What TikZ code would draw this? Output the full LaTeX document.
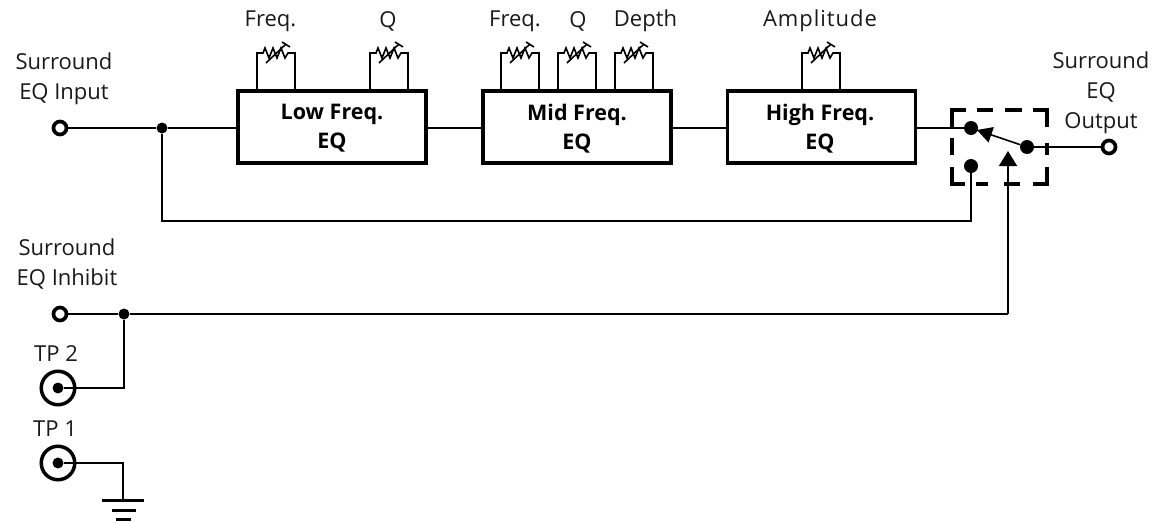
\documentclass[tikz,border=0pt]{standalone}
\usepackage{fontspec}
\setmainfont{Open Sans}
\usetikzlibrary{arrows.meta}
\tikzset{
  x=1pt,y=-1pt,
  wire/.style={line width=1.6pt,line join=miter},
  lbl/.style={font=\fontsize{22}{30}\selectfont,align=center,inner sep=0pt,text=black!90},
  eqbox/.style={draw,line width=3.2pt,minimum width=188pt,minimum height=72pt,inner sep=0pt},
  boxtext/.style={inner sep=0pt,align=center,font=\fontsize{21.5}{29}\selectfont\bfseries},
  term/.style={circle,draw,line width=3.7pt,fill=white,minimum size=13pt,inner sep=0pt},
  jdot/.style={circle,fill=black,minimum size=11pt,inner sep=0pt},
  sdot/.style={circle,fill=black,minimum size=14pt,inner sep=0pt},
  tp/.style={circle,draw,line width=3.5pt,minimum size=33.5pt,inner sep=0pt},
  tpdot/.style={circle,fill=black,minimum size=11pt,inner sep=0pt},
  pot/.pic={
    \draw[line width=1.6pt,line join=miter] (0,37) -- (0,0) -- (6,0) -- (8,-5) -- (12,5) -- (16,-5) -- (20,5) -- (24,-5) -- (28,5) -- (31,0) -- (38,0) -- (38,37);
    \draw[line width=1.6pt] (9,10) -- (29,-9);
    \draw[line width=1.6pt] (25,-11) -- (33,-6);
  }
}
\begin{document}
\begin{tikzpicture}
\useasboundingbox (0,0) rectangle (1156,522);
% blocks
\node[eqbox] (low) at (332,127) {};
\node[eqbox] (mid) at (577,127) {};
\node[eqbox] (high) at (821.5,127) {};
\node[boxtext] (lowt) at (332,128.5) {Low Freq.\\EQ};
\node[boxtext] (midt) at (577,128.5) {Mid Freq.\\EQ};
\node[boxtext] (hight) at (820,128.5) {High Freq.\\EQ};
% potentiometers
\pic at (257,53) {pot};
\pic at (370,53) {pot};
\pic at (501,53) {pot};
\pic at (558,53) {pot};
\pic at (615,53) {pot};
\pic at (802,53) {pot};
% labels
\node[lbl] (tf1) at (270.5,21) {Freq.};
\node[lbl] (tq1) at (388,21) {Q};
\node[lbl] (tf2) at (515,21) {Freq.};
\node[lbl] (tq2) at (578,21) {Q};
\node[lbl] (td) at (645.5,21) {Depth};
\node[lbl] (ta) at (820,21) {\addfontfeature{LetterSpace=4.5}Amplitude};
\node[lbl] (tin) at (64,78.5) {Surround\\EQ Input};
\node[lbl] (tinh) at (67,264) {Surround\\EQ Inhibit};
\node[lbl] (tout) at (1101,93) {Surround\\EQ\\Output};
\node[lbl] (ttp2) at (56,354) {TP 2};
\node[lbl] (ttp1) at (55,429) {TP 1};
% switch housing, dashes as printed
\draw[line width=3.2pt,line cap=butt,line join=miter]
  (966,110) -- (952,110) -- (952,128)
  (952,138) -- (952,155)
  (952,167) -- (952,184) -- (965,184)
  (977,110) -- (993,110)
  (1005,110) -- (1022,110)
  (1033,110) -- (1047,110) -- (1047,127)
  (1047,143) -- (1047,155)
  (1047,167) -- (1047,184) -- (1033,184)
  (976,184) -- (988,184)
  (1004,184) -- (1020,184);
\node[sdot] (s1) at (971,128) {};
\node[sdot] (s2) at (971,166) {};
\node[sdot] (s3) at (1027,147) {};
% terminals
\node[term] (in) at (60,128) {};
\node[term] (inh) at (60,314) {};
\node[term] (out) at (1109,147) {};
\node[jdot] (j1) at (162,128) {};
\node[jdot] (j2) at (124,314) {};
\node[tp] (tp2) at (58,388) {};
\node[tpdot] (tp2c) at (58,388) {};
\node[tp] (tp1) at (58,463) {};
\node[tpdot] (tp1c) at (58,463) {};
\coordinate (c1) at (162,221);
\coordinate (c2) at (971,221);
\coordinate (ctl) at (1008,314);
\coordinate (ctltip) at (1008,151);
\coordinate (g0) at (123,463);
\coordinate (g1) at (123,500);
\coordinate (swtip) at (977,130);
% wires
\draw[wire] (in) -- (j1) -- (j1 -| low.west);
\draw[wire] (low.east |- 0,128) -- (mid.west |- 0,128);
\draw[wire] (mid.east |- 0,128) -- (high.west |- 0,128);
\draw[wire] (high.east |- 0,128) -- (s1);
\draw[wire] (j1) -- (c1) -- (c2) -- (s2);
\draw[wire] (s3) -- (out);
\draw[wire] (inh) -- (j2) -- (ctl);
\draw[wire,-{Triangle[length=15pt,width=18pt]}] (ctl) -- (ctltip);
\draw[wire] (j2) |- (tp2c);
\draw[wire] (tp1c) -- (g0) -- (g1);
\draw[wire,-{Triangle[length=15pt,width=16pt]}] (s3) -- (swtip);
\draw[wire] (swtip) -- (s1);
% ground
\draw[line width=3pt] (102,500) -- (144,500);
\draw[line width=3pt] (112,510) -- (136,510);
\draw[line width=3pt] (116,519) -- (131,519);
\end{tikzpicture}
\end{document}
